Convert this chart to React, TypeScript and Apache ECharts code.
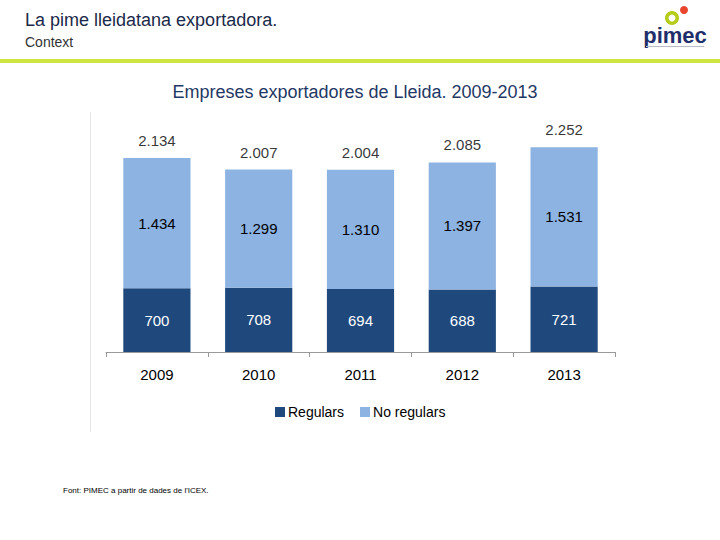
import React, { useEffect, useRef } from "react";
import * as echarts from "echarts";

const years = ["2009", "2010", "2011", "2012", "2013"];
const regulars = [700, 708, 694, 688, 721];
const noRegulars = [1434, 1299, 1310, 1397, 1531];
const totals = [2134, 2007, 2004, 2085, 2252];

const fmt = (n: number) => String(n).replace(/\B(?=(\d{3})+(?!\d))/g, ".");

const DARK = "#1f497d";
const LIGHT = "#8db3e2";
const FONT = "Arial";

export default function App() {
  const ref = useRef<HTMLDivElement>(null);
  useEffect(() => {
    if (!ref.current) return;
    const chart = echarts.init(ref.current, null, { renderer: "svg" });
    chart.setOption({
      animation: false,
      textStyle: { fontFamily: FONT },
      grid: { left: 106, right: 105, top: 124.7, bottom: 188 },
      legend: {
        data: ["Regulars", "No regulars"],
        left: 270,
        top: 400,
        icon: "rect",
        itemWidth: 10,
        itemHeight: 10,
        itemGap: 16,
        textStyle: { fontSize: 14, color: "#000", fontFamily: FONT, padding: [0, 0, 0, -2] },
      },
      xAxis: {
        type: "category",
        data: years,
        axisLine: { lineStyle: { color: "#9a9a9a", width: 1 } },
        axisTick: { show: true, length: 5, lineStyle: { color: "#9a9a9a" } },
        axisLabel: { fontSize: 15, color: "#000", margin: 15, fontFamily: FONT },
      },
      yAxis: {
        type: "value",
        min: 0,
        max: 2500,
        show: false,
        splitLine: { show: false },
      },
      series: [
        {
          name: "Regulars",
          type: "bar",
          stack: "s",
          barWidth: "66%",
          data: regulars,
          itemStyle: { color: DARK },
          label: {
            show: true,
            position: "inside",
            color: "#fff",
            fontSize: 15,
            fontFamily: FONT,
            formatter: (p: any) => fmt(p.value),
          },
        },
        {
          name: "No regulars",
          type: "bar",
          stack: "s",
          data: noRegulars,
          itemStyle: { color: LIGHT },
          label: {
            show: true,
            position: "inside",
            color: "#000",
            fontSize: 15,
            fontFamily: FONT,
            formatter: (p: any) => fmt(p.value),
          },
        },
        {
          name: "total",
          type: "scatter",
          data: totals,
          symbolSize: 0,
          silent: true,
          label: {
            show: true,
            position: "top",
            distance: 10,
            color: "#000",
            fontSize: 15,
            fontFamily: FONT,
            formatter: (p: any) => fmt(p.value),
          },
        },
      ],
      graphic: [
        {
          type: "text",
          left: 25,
          top: 11,
          style: { text: "La pime lleidatana exportadora.", fontSize: 18, fill: "#1b2a4a", fontFamily: FONT },
        },
        {
          type: "text",
          left: 25,
          top: 35,
          style: { text: "Context", fontSize: 14, fill: "#333", fontFamily: FONT },
        },
        {
          type: "rect",
          shape: { x: 0, y: 59, width: 720, height: 4 },
          style: { fill: "#cde63f" },
        },
        {
          type: "line",
          shape: { x1: 90.5, y1: 112, x2: 90.5, y2: 432 },
          style: { stroke: "#e6e6e6", lineWidth: 1 },
        },
        {
          type: "text",
          x: 355,
          y: 83,
          style: {
            text: "Empreses exportadores de Lleida. 2009-2013",
            fontSize: 18,
            fill: "#1f3864",
            fontFamily: FONT,
            textAlign: "center",
          },
        },
        {
          type: "text",
          left: 63,
          top: 486,
          style: { text: "Font: PIMEC a partir de dades de l'ICEX.", fontSize: 8, fill: "#000", fontFamily: FONT },
        },
        {
          type: "ring",
          shape: { cx: 672, cy: 18, r: 7, r0: 3.5 },
          style: { fill: "#b5cc18" },
        },
        {
          type: "circle",
          shape: { cx: 684, cy: 10, r: 4 },
          style: { fill: "#e8452c" },
        },
        {
          type: "text",
          x: 675,
          y: 24,
          style: {
            text: "pimec",
            fontSize: 22,
            fontWeight: "bold",
            fill: "#1f2f6b",
            fontFamily: FONT,
            textAlign: "center",
          },
        },
        {
          type: "line",
          shape: { x1: 646, y1: 46.5, x2: 704, y2: 46.5 },
          style: { stroke: "#b8bcc8", lineWidth: 1 },
        },
      ],
    });
    return () => chart.dispose();
  }, []);
  return <div ref={ref} style={{ position: "fixed", left: 0, top: 0, width: 720, height: 540, background: "#fff" }} />;
}
